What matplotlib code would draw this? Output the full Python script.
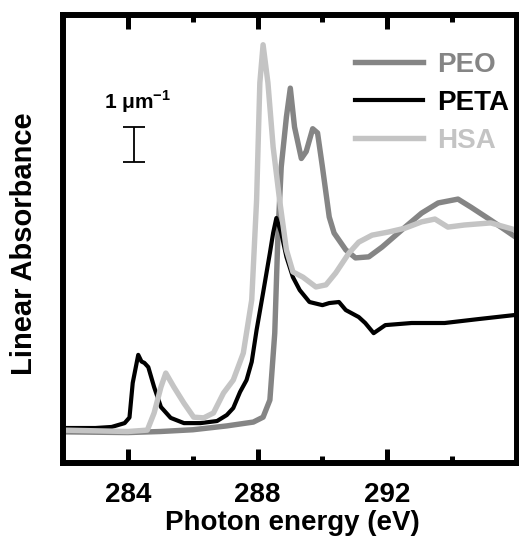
import matplotlib
matplotlib.use("Agg")
import matplotlib.pyplot as plt

plt.rcParams['font.family'] = ['Liberation Sans', 'DejaVu Sans']
plt.rcParams['font.weight'] = 'bold'
plt.rcParams['mathtext.fontset'] = 'custom'
plt.rcParams['mathtext.rm'] = 'Liberation Sans:bold'
plt.rcParams['mathtext.bf'] = 'Liberation Sans:bold'

# photon energy (eV) and linear absorbance (um^-1)
peo_e = [282.0, 283.0, 284.0, 285.0, 286.0, 287.05, 287.87, 288.17, 288.38, 288.53,
         288.63, 288.73, 288.89, 289.01, 289.14, 289.35, 289.5, 289.7, 289.85, 290.0,
         290.21, 290.36, 290.72, 291.02, 291.43, 291.84, 292.55, 293.06, 293.57, 294.18,
         294.58, 295.19, 295.95]
peo_a = [0.89, 0.88, 0.87, 0.90, 0.95, 1.06, 1.17, 1.31, 1.80, 3.71,
         6.57, 8.46, 9.89, 10.71, 9.60, 8.70, 8.90, 9.55, 9.43, 8.46,
         7.03, 6.57, 6.09, 5.86, 5.89, 6.17, 6.74, 7.14, 7.43, 7.54,
         7.31, 6.94, 6.46]

peta_e = [282.0, 283.0, 283.5, 283.9, 284.05, 284.15, 284.32, 284.42, 284.51, 284.63,
          284.81, 285.02, 285.32, 285.73, 286.24, 286.75, 287.05, 287.25, 287.46, 287.66,
          287.82, 287.97, 288.17, 288.38, 288.48, 288.58, 288.73, 288.89, 289.09, 289.30,
          289.60, 290.0, 290.21, 290.51, 290.72, 291.12, 291.32, 291.58, 291.94, 292.75,
          293.77, 294.79, 295.95]
peta_a = [1.00, 1.00, 1.03, 1.14, 1.30, 2.29, 3.09, 2.90, 2.86, 2.74,
          2.17, 1.60, 1.29, 1.14, 1.14, 1.20, 1.37, 1.57, 2.03, 2.37,
          2.89, 3.80, 4.86, 6.00, 6.57, 7.00, 6.57, 5.89, 5.31, 4.94,
          4.60, 4.51, 4.57, 4.60, 4.37, 4.17, 4.00, 3.71, 3.94, 4.00,
          4.00, 4.11, 4.23]

hsa_e = [282.0, 283.0, 284.0, 284.6, 284.81, 285.02, 285.17, 285.42, 285.73, 286.03,
         286.34, 286.64, 286.95, 287.25, 287.56, 287.82, 287.97, 288.07, 288.17, 288.32,
         288.48, 288.68, 288.89, 289.09, 289.40, 289.80, 290.11, 290.41, 290.82, 291.12,
         291.53, 292.04, 292.55, 293.06, 293.47, 293.87, 294.38, 295.19, 295.95]
hsa_a = [0.94, 0.92, 0.90, 0.94, 1.43, 2.17, 2.57, 2.17, 1.71, 1.31,
         1.29, 1.43, 2.00, 2.37, 3.14, 4.66, 7.51, 10.86, 11.95, 10.86,
         9.03, 7.51, 6.09, 5.46, 5.31, 5.03, 5.09, 5.43, 6.00, 6.31,
         6.51, 6.60, 6.71, 6.89, 6.97, 6.74, 6.80, 6.86, 6.66]

labels = ['PEO', 'PETA', 'HSA']
colors = ['#858585', '#000000', '#c4c4c4']
widths = [3.9, 3.0, 3.9]
major_ticks = [284, 288, 292]
minor_ticks = [286, 290, 294]

fig = plt.figure(figsize=(5.19, 5.43), dpi=100)
ax = fig.add_axes([0.1214, 0.1473, 0.8747, 0.8251])

for e, a, lab, c, lw in zip([peo_e, peta_e, hsa_e], [peo_a, peta_a, hsa_a],
                            labels, colors, widths):
    ax.plot(e, a, color=c, lw=lw, label=lab)

ax.set_xlim(282, 296)
ax.set_ylim(0, 12.8)
ax.set_xticks(major_ticks)
ax.set_xticks(minor_ticks, minor=True)
ax.set_yticks([])
ax.tick_params(axis='x', which='both', direction='in', top=True, bottom=True,
               labelsize=20, pad=14)
ax.tick_params(axis='x', which='major', length=10, width=3.6)
ax.tick_params(axis='x', which='minor', length=5, width=3.6)
for s in ax.spines.values():
    s.set_linewidth(4.3)

ax.set_xlabel('Photon energy (eV)', fontsize=20, fontweight='bold')
ax.set_ylabel('Linear Absorbance', fontsize=21, fontweight='bold')
ax.xaxis.set_label_coords(0.505, -0.105)
ax.yaxis.set_label_coords(-0.056, 0.49)

# scale bar, 1 um^-1 tall
ax.errorbar([284.19], [9.1], yerr=0.5, color='black', lw=1.3, capsize=8,
            capthick=1.3)
ax.text(284.3, 9.95, r'1 $\mathrm{\mu}$m$^{\mathbf{-1}}$', fontsize=15,
        fontweight='bold', ha='center', va='bottom')

leg = ax.legend(loc='upper left', bbox_to_anchor=(0.643, 0.917), frameon=False,
                fontsize=20, handlelength=2.45, handletextpad=0.5,
                labelspacing=0.42, borderpad=0, borderaxespad=0,
                labelcolor='linecolor')
for t in leg.get_texts():
    t.set_fontweight('bold')

fig.savefig('out.png', dpi=100)
